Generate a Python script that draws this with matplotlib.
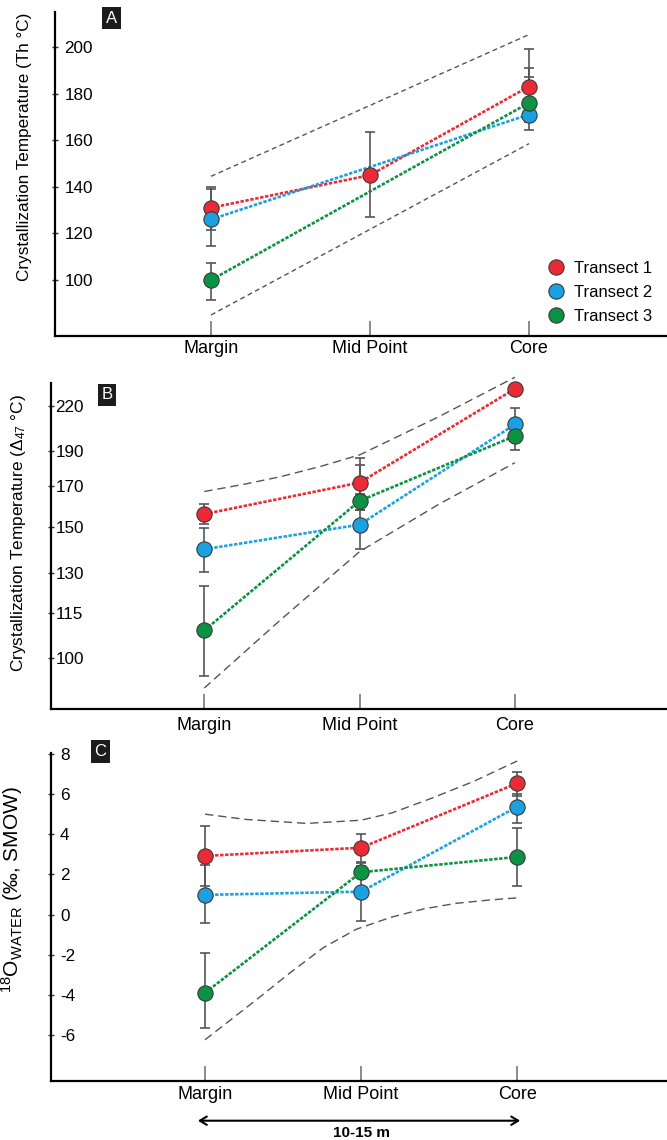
import numpy as np
import matplotlib
matplotlib.use('Agg')
import matplotlib.pyplot as plt
from matplotlib.lines import Line2D

plt.rcParams['font.family'] = ['Liberation Sans', 'DejaVu Sans']
plt.rcParams['mathtext.fontset'] = 'custom'
plt.rcParams['mathtext.rm'] = 'Liberation Sans'
plt.rcParams['mathtext.it'] = 'Liberation Sans:italic'
plt.rcParams['axes.unicode_minus'] = False

categories = ['Margin', 'Mid Point', 'Core']
transects = ['Transect 1', 'Transect 2', 'Transect 3']
colors = ['#ec2a35', '#1ba1e2', '#0b9343']
nan = np.nan

# panel A - Th (fluid inclusions)
a_vals = [[131, 145, 183], [126, nan, 171], [100, nan, 176]]
a_low = [[121.5, 127, 170], [114.7, nan, 164.4], [91.5, nan, 167.8]]
a_high = [[140, 163.5, 199], [139, nan, 187], [107.5, nan, 191]]
a_env_x = [0, 2]
a_env_up = [144.5, 205.3]
a_env_lo = [85, 158.5]

# panel B - clumped isotope temperatures
b_vals = [[156, 172, 233], [140, 151, 207], [109, 162.5, 199.4]]
b_low = [[151.3, 166, 233], [130.5, 140.1, 200], [94.4, 158, 190.7]]
b_high = [[160.8, 181.8, 233], [149.4, 158, 218.7], [125.1, 185.7, 203]]
b_up_x = [0, 0.25, 0.49, 0.75, 1, 1.51, 2]
b_env_up = [167.3, 171.0, 175.2, 181.0, 187.7, 212.3, 242.4]
b_lo_x = [0, 0.49, 1, 1.51, 2]
b_env_lo = [90.8, 112.6, 139.0, 160.8, 183.1]

# panel C - d18O water
c_vals = [[2.92, 3.33, 6.54], [0.98, 1.14, 5.37], [-3.9, 2.11, 2.87]]
c_low = [[1.41, 2.6, 5.9], [-0.43, -0.31, 4.57], [-5.65, 1.8, 1.41]]
c_high = [[4.40, 4.03, 7.08], [2.45, 2.58, 6.0], [-1.93, 2.4, 4.29]]
c_up_x = [0, 0.26, 0.65, 1.0, 1.2, 1.45, 1.72, 2.0]
c_env_up = [5.0, 4.74, 4.54, 4.7, 5.07, 5.79, 6.63, 7.65]
c_lo_x = [0, 0.33, 0.545, 0.76, 0.97, 1.19, 1.40, 1.61, 1.83, 2.0]
c_env_lo = [-6.24, -4.24, -2.90, -1.64, -0.73, -0.14, 0.28, 0.56, 0.73, 0.83]


def fwd(t):
    return -1e6 / (np.asarray(t, dtype=float) + 273.15) ** 2


def inv(u):
    u = np.asarray(u, dtype=float)
    return 1e3 / np.sqrt(np.maximum(-u, 1e-9)) - 273.15


def draw(ax, vals, low, high):
    xs = np.arange(3)
    for i in range(3):
        v = np.array(vals[i], dtype=float)
        lo = np.array(low[i], dtype=float)
        hi = np.array(high[i], dtype=float)
        m = ~np.isnan(v)
        ax.plot(xs[m], v[m], ls=(0, (1.3, 0.6)), lw=1.9, color=colors[i], zorder=2, clip_on=False)
        ax.errorbar(xs[m], v[m], yerr=[v[m] - lo[m], hi[m] - v[m]], fmt='none', ecolor='#555555',
                    elinewidth=1.2, capsize=3.8, capthick=1.2, zorder=3, clip_on=False)
        ax.plot(xs[m], v[m], 'o', ms=11, mfc=colors[i], mec='#3a3a3a', mew=0.8, zorder=5 + i, clip_on=False)


def style(ax, ticks, pad_y, pad_x, xlim):
    ax.spines['top'].set_visible(False)
    ax.spines['right'].set_visible(False)
    ax.spines['left'].set_linewidth(1.6)
    ax.spines['bottom'].set_linewidth(1.6)
    ax.set_xlim(*xlim)
    ax.set_xticks([0, 1, 2])
    ax.set_xticklabels(categories)
    ax.tick_params(axis='x', direction='in', length=11, width=1.2, color='#777777', labelsize=13, pad=pad_x)
    ax.set_yticks(ticks)
    ax.set_yticklabels([str(t) for t in ticks])
    ax.yaxis.set_minor_locator(plt.NullLocator())
    ax.tick_params(axis='y', direction='inout', length=4.3, width=1.0, color='#333333', labelsize=12.3, pad=pad_y)
    for lbl in ax.get_yticklabels():
        lbl.set_horizontalalignment('left')


def tag(ax, x, y, s):
    ax.text(x, y, s, transform=ax.transAxes, ha='center', va='center', color='white', fontsize=12,
            bbox=dict(boxstyle='square,pad=0.22', fc='#1c1c1c', ec='none'), clip_on=False)


fig = plt.figure(figsize=(6.67, 11.4), dpi=100)
axA = fig.add_axes([0.0825, 0.7053, 0.9175, 0.2842])
axB = fig.add_axes([0.0765, 0.3781, 0.9235, 0.2860])
axC = fig.add_axes([0.0765, 0.0520, 0.9235, 0.2875])

env_kw = dict(color='#555555', lw=1.0, zorder=1, clip_on=False)

# A
axA.plot(a_env_x, a_env_up, ls=(0, (3.5, 2.5)), **env_kw)
axA.plot(a_env_x, a_env_lo, ls=(0, (3.5, 2.5)), **env_kw)
draw(axA, a_vals, a_low, a_high)
axA.set_ylim(76, 215)
style(axA, [100, 120, 140, 160, 180, 200], -8.9, 3, (-0.981, 2.868))
axA.set_ylabel('Crystallization Temperature (Th °C)', fontsize=12.3)
axA.yaxis.set_label_coords(-0.0376, 0.585)
tag(axA, 0.092, 0.981, 'A')
handles = [Line2D([], [], ls='none', marker='o', ms=11, mfc=c, mec='#3a3a3a', mew=0.8) for c in colors]
axA.legend(handles, transects, loc='lower right', bbox_to_anchor=(0.99, 0.011), frameon=False,
           fontsize=12, handlelength=1.0, handletextpad=0.6, labelspacing=0.55, borderpad=0)

# B
axB.set_yscale('function', functions=(fwd, inv))
axB.plot(b_up_x, b_env_up, ls=(0, (6, 3.5)), **env_kw)
axB.plot(b_lo_x, b_env_lo, ls=(0, (6, 3.5)), **env_kw)
draw(axB, b_vals, b_low, b_high)
axB.set_ylim(84.8, 237.7)
style(axB, [100, 115, 130, 150, 170, 190, 220], -5.3, 5.5, (-0.987, 2.979))
axB.set_ylabel(r'Crystallization Temperature ($\Delta_{47}$ °C)', fontsize=12.4)
axB.yaxis.set_label_coords(-0.0373, 0.538)
tag(axB, 0.091, 0.963, 'B')

# C
axC.plot(c_up_x, c_env_up, ls=(0, (6, 3.5)), **env_kw)
axC.plot(c_lo_x, c_env_lo, ls=(0, (6, 3.5)), **env_kw)
draw(axC, c_vals, c_low, c_high)
axC.set_ylim(-8.28, 8.05)
style(axC, [-6, -4, -2, 0, 2, 4, 6, 8], -8.6, 4, (-0.987, 2.96))
axC.set_ylabel(r'$^{18}$O$_{\mathrm{WATER}}$ (‰, SMOW)', fontsize=15)
axC.yaxis.set_label_coords(-0.042, 0.583)
tag(axC, 0.080, 1.004, 'C')

axC.annotate('', xy=(2.037, -0.122), xytext=(-0.064, -0.122),
             xycoords=('data', 'axes fraction'), textcoords=('data', 'axes fraction'),
             arrowprops=dict(arrowstyle='<->,head_length=0.5,head_width=0.3', lw=1.5, color='black'),
             annotation_clip=False)
axC.text(1.0, -0.159, '10-15 m', transform=axC.get_xaxis_transform(), ha='center', va='center',
         fontsize=11, fontweight='bold')

fig.savefig('out.png', dpi=100)
